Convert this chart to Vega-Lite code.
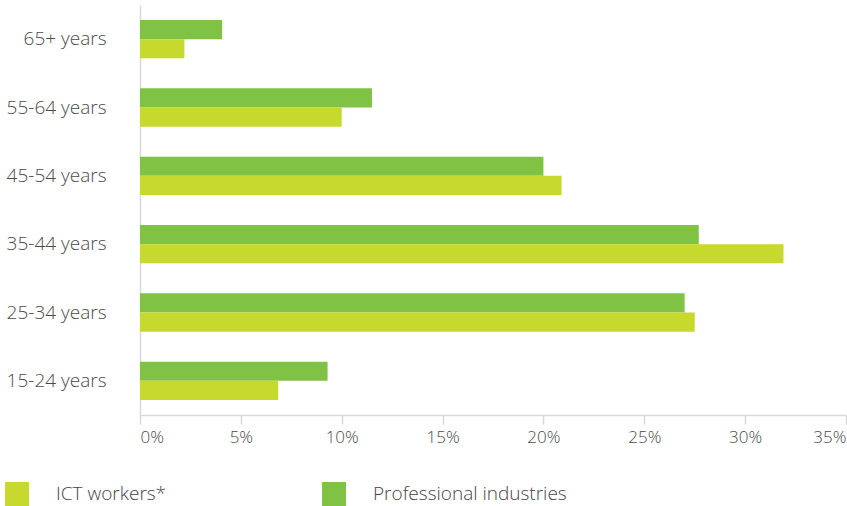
{
  "$schema": "https://vega.github.io/schema/vega-lite/v6.json",
  "autosize": {"type": "none"},
  "width": 706,
  "height": 410,
  "padding": {"left": 140, "top": 5, "right": 1, "bottom": 91},
  "config": {
    "font": "Open Sans",
    "view": {"stroke": null},
    "axis": {"labelFont": "Open Sans", "labelColor": "#4a4a4a", "labelFontWeight": 300}
  },
  "data": {
    "values": [
      {"age": "65+ years", "series": "Professional industries", "value": 4.07},
      {"age": "65+ years", "series": "ICT workers*", "value": 2.2},
      {"age": "55-64 years", "series": "Professional industries", "value": 11.5},
      {"age": "55-64 years", "series": "ICT workers*", "value": 10.0},
      {"age": "45-54 years", "series": "Professional industries", "value": 20.0},
      {"age": "45-54 years", "series": "ICT workers*", "value": 20.9},
      {"age": "35-44 years", "series": "Professional industries", "value": 27.7},
      {"age": "35-44 years", "series": "ICT workers*", "value": 31.9},
      {"age": "25-34 years", "series": "Professional industries", "value": 27.0},
      {"age": "25-34 years", "series": "ICT workers*", "value": 27.5},
      {"age": "15-24 years", "series": "Professional industries", "value": 9.3},
      {"age": "15-24 years", "series": "ICT workers*", "value": 6.85}
    ]
  },
  "mark": {"type": "bar"},
  "encoding": {
    "y": {
      "field": "age",
      "type": "nominal",
      "sort": ["65+ years", "55-64 years", "45-54 years", "35-44 years", "25-34 years", "15-24 years"],
      "scale": {"paddingInner": 0.44, "paddingOuter": 0.22},
      "axis": {
        "title": null,
        "ticks": false,
        "domain": true,
        "domainColor": "#d9d9d9",
        "domainWidth": 1.5,
        "labelFontSize": 19,
        "labelPadding": 34,
        "labelColor": "#4a4a4a"
      }
    },
    "yOffset": {
      "field": "series",
      "type": "nominal",
      "sort": ["Professional industries", "ICT workers*"],
      "scale": {"paddingInner": 0, "paddingOuter": 0}
    },
    "x": {
      "field": "value",
      "type": "quantitative",
      "scale": {"domain": [0, 35], "nice": false},
      "axis": {
        "title": null,
        "values": [0, 5, 10, 15, 20, 25, 30, 35],
        "labelExpr": "datum.value + '%'",
        "grid": false,
        "domainColor": "#d9d9d9",
        "domainWidth": 1.5,
        "tickColor": "#d9d9d9",
        "tickSize": 9,
        "tickWidth": 1.5,
        "labelFontSize": 17,
        "labelPadding": 5,
        "labelFlush": true,
        "labelColor": "#4a4a4a"
      }
    },
    "color": {
      "field": "series",
      "type": "nominal",
      "scale": {"domain": ["ICT workers*", "Professional industries"], "range": ["#c7d92c", "#80c243"]},
      "legend": {
        "title": null,
        "orient": "none",
        "legendX": -135,
        "legendY": 477,
        "direction": "horizontal",
        "symbolType": "square",
        "symbolSize": 576,
        "symbolStrokeWidth": 0,
        "symbolOpacity": 1,
        "labelFontSize": 19,
        "labelFont": "Open Sans",
        "labelFontWeight": 300,
        "labelColor": "#444444",
        "labelOffset": 27,
        "columnPadding": 155,
        "labelLimit": 300
      }
    }
  }
}
